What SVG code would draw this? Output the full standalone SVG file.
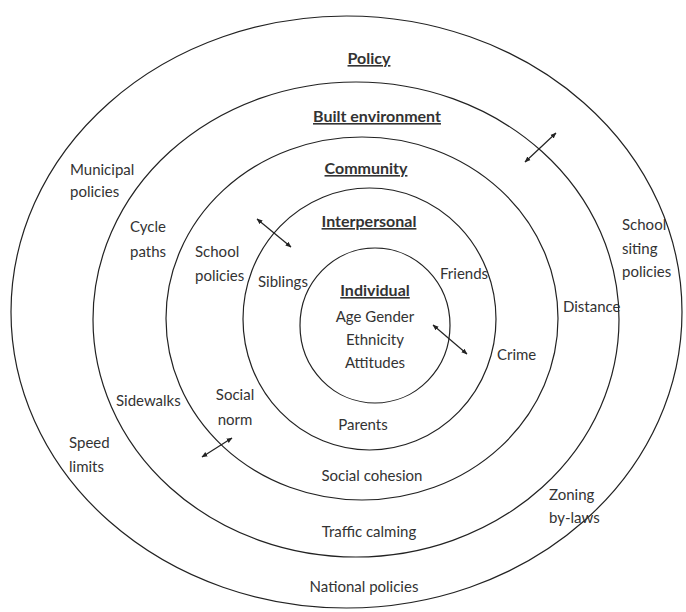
<svg xmlns="http://www.w3.org/2000/svg" width="686" height="612" viewBox="0 0 686 612">
<style>
.ring{fill:none;stroke:#222;stroke-width:1.2}
text{font-family:Lato,"Liberation Sans",sans-serif;font-size:15px;fill:#333}
.h{font-weight:bold;font-size:16px;text-decoration:underline;text-anchor:middle}
.c{text-anchor:middle}
.arr{stroke:#222;stroke-width:1.2;fill:none;marker-start:url(#ah);marker-end:url(#ah)}
</style>
<defs>
<marker id="ah" viewBox="0 0 10 10" refX="9" refY="5" markerWidth="6" markerHeight="6" orient="auto-start-reverse" markerUnits="userSpaceOnUse">
<path d="M0,1 L10,5 L0,9 z" fill="#222"/>
</marker>
</defs>
<rect width="686" height="612" fill="#fff"/>
<g id="policy">
<ellipse class="ring" cx="346.5" cy="312" rx="335.5" ry="296"/>
<text class="h" x="369" y="64">Policy</text>
<text x="70" y="175">Municipal</text>
<text x="70" y="197">policies</text>
<text x="622" y="230">School</text>
<text x="622" y="254">siting</text>
<text x="622" y="277">policies</text>
<text x="69" y="448">Speed</text>
<text x="69" y="472">limits</text>
<text x="549" y="500">Zoning</text>
<text x="549" y="523">by-laws</text>
<text class="c" x="364" y="592">National policies</text>
</g>
<g id="built-environment">
<ellipse class="ring" cx="356" cy="319.5" rx="263" ry="237.5"/>
<text class="h" x="377" y="122">Built environment</text>
<text x="130" y="232">Cycle</text>
<text x="130" y="257">paths</text>
<text x="563" y="312">Distance</text>
<text x="116" y="406">Sidewalks</text>
<text class="c" x="369" y="537">Traffic calming</text>
</g>
<g id="community">
<ellipse class="ring" cx="362" cy="318.5" rx="196" ry="181.5"/>
<text class="h" x="366" y="174">Community</text>
<text x="195" y="257">School</text>
<text x="195" y="281">policies</text>
<text x="497" y="360">Crime</text>
<text class="c" x="235" y="400">Social</text>
<text class="c" x="235" y="425">norm</text>
<text class="c" x="372" y="481">Social cohesion</text>
</g>
<g id="interpersonal">
<ellipse class="ring" cx="369.5" cy="319" rx="126.5" ry="131"/>
<text class="h" x="369" y="227">Interpersonal</text>
<text x="258" y="287">Siblings</text>
<text x="440" y="279">Friends</text>
<text class="c" x="363" y="430">Parents</text>
</g>
<g id="individual">
<ellipse class="ring" cx="375" cy="325.5" rx="75" ry="77.5"/>
<text class="h" x="375" y="296">Individual</text>
<text class="c" x="375" y="322">Age Gender</text>
<text class="c" x="375" y="345">Ethnicity</text>
<text class="c" x="375" y="368">Attitudes</text>
</g>
<g id="connectors">
<line class="arr" x1="525" y1="162" x2="556" y2="133"/>
<line class="arr" x1="257" y1="219" x2="291" y2="247"/>
<line class="arr" x1="433" y1="325" x2="467" y2="354"/>
<line class="arr" x1="202" y1="457" x2="232" y2="438"/>
</g>
</svg>
